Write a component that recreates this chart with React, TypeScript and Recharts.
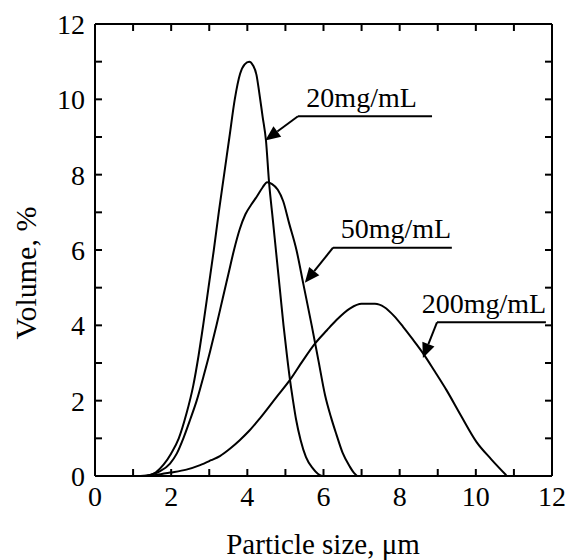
import {
  LineChart,
  Line,
  XAxis,
  YAxis,
  ReferenceLine,
  ReferenceDot,
} from 'recharts'

// particle size (µm) / volume (%)
const conc20 = [
  { x: 1.2, y: 0 }, { x: 1.45, y: 0.03 }, { x: 1.6, y: 0.1 }, { x: 1.8, y: 0.3 },
  { x: 2.0, y: 0.6 }, { x: 2.2, y: 1.0 }, { x: 2.4, y: 1.65 }, { x: 2.58, y: 2.4 },
  { x: 2.72, y: 3.2 }, { x: 2.84, y: 4.0 }, { x: 2.98, y: 5.0 }, { x: 3.12, y: 6.0 },
  { x: 3.25, y: 7.0 }, { x: 3.39, y: 8.0 }, { x: 3.53, y: 9.0 }, { x: 3.67, y: 10.0 },
  { x: 3.81, y: 10.68 }, { x: 3.93, y: 10.93 }, { x: 4.05, y: 11.0 }, { x: 4.15, y: 10.9 },
  { x: 4.24, y: 10.65 }, { x: 4.31, y: 10.2 }, { x: 4.4, y: 9.55 }, { x: 4.49, y: 8.9 },
  { x: 4.57, y: 7.8 }, { x: 4.67, y: 6.8 }, { x: 4.77, y: 5.8 }, { x: 4.86, y: 4.9 },
  { x: 4.95, y: 4.0 }, { x: 5.04, y: 3.2 }, { x: 5.12, y: 2.55 }, { x: 5.2, y: 2.0 },
  { x: 5.28, y: 1.5 }, { x: 5.4, y: 0.95 }, { x: 5.54, y: 0.5 }, { x: 5.72, y: 0.2 },
  { x: 5.85, y: 0.06 }, { x: 5.95, y: 0 },
]

const conc50 = [
  { x: 1.2, y: 0 }, { x: 1.45, y: 0.03 }, { x: 1.7, y: 0.12 }, { x: 1.97, y: 0.33 },
  { x: 2.15, y: 0.6 }, { x: 2.32, y: 1.0 }, { x: 2.5, y: 1.5 }, { x: 2.67, y: 2.0 },
  { x: 2.85, y: 2.65 }, { x: 3.02, y: 3.3 }, { x: 3.19, y: 4.0 }, { x: 3.35, y: 4.7 },
  { x: 3.5, y: 5.35 }, { x: 3.65, y: 6.0 }, { x: 3.8, y: 6.55 }, { x: 3.95, y: 6.95 },
  { x: 4.1, y: 7.2 }, { x: 4.25, y: 7.42 }, { x: 4.4, y: 7.66 }, { x: 4.52, y: 7.8 },
  { x: 4.65, y: 7.75 }, { x: 4.8, y: 7.6 }, { x: 4.94, y: 7.3 }, { x: 5.1, y: 6.7 },
  { x: 5.29, y: 6.0 }, { x: 5.47, y: 5.1 }, { x: 5.69, y: 4.0 }, { x: 5.87, y: 3.05 },
  { x: 6.04, y: 2.15 }, { x: 6.2, y: 1.55 }, { x: 6.34, y: 1.1 }, { x: 6.5, y: 0.62 },
  { x: 6.69, y: 0.25 }, { x: 6.8, y: 0.08 }, { x: 6.88, y: 0 },
]

const conc200 = [
  { x: 1.3, y: 0 }, { x: 1.6, y: 0.03 }, { x: 1.97, y: 0.09 }, { x: 2.4, y: 0.17 },
  { x: 2.76, y: 0.29 }, { x: 3.05, y: 0.42 }, { x: 3.28, y: 0.53 }, { x: 3.55, y: 0.73 },
  { x: 3.8, y: 0.95 }, { x: 4.05, y: 1.2 }, { x: 4.33, y: 1.53 }, { x: 4.77, y: 2.1 },
  { x: 5.12, y: 2.55 }, { x: 5.45, y: 3.05 }, { x: 5.78, y: 3.52 }, { x: 6.09, y: 3.87 },
  { x: 6.34, y: 4.14 }, { x: 6.7, y: 4.45 }, { x: 7.0, y: 4.57 }, { x: 7.35, y: 4.57 },
  { x: 7.6, y: 4.48 }, { x: 7.85, y: 4.25 }, { x: 8.09, y: 3.96 }, { x: 8.35, y: 3.62 },
  { x: 8.62, y: 3.25 }, { x: 8.92, y: 2.78 }, { x: 9.23, y: 2.28 }, { x: 9.6, y: 1.62 },
  { x: 10.02, y: 0.9 }, { x: 10.4, y: 0.45 }, { x: 10.8, y: 0.02 },
]

const majorTicks = [0, 2, 4, 6, 8, 10, 12]
const minorTicks = [1, 2, 3, 4, 5, 6, 7, 8, 9, 10, 11]

// label text, leader line (horizontal part) and arrow tip, in data units
const notes = [
  { text: '20mg/mL', tx: 5.55, ty: 10.05, lx1: 5.33, lx2: 8.85, ly: 9.55, ax: 4.47, ay: 8.91 },
  { text: '50mg/mL', tx: 6.45, ty: 6.58, lx1: 6.25, lx2: 9.37, ly: 6.06, ax: 5.51, ay: 5.13 },
  { text: '200mg/mL', tx: 8.58, ty: 4.59, lx1: 8.98, lx2: 11.84, ly: 4.08, ax: 8.61, ay: 3.13 },
]

const font = '"Liberation Serif", "Times New Roman", serif'

// plot frame in page pixels (follows from the chart size and margins below)
const W = 568
const H = 560
const LEFT = 95
const RIGHT = W - 16
const TOP = 24
const BOTTOM = H - 84
const TICK_LEN = 7

function Arrow(props: any) {
  const { x1, y1, x2, y2 } = props
  const dx = x2 - x1
  const dy = y2 - y1
  const len = Math.sqrt(dx * dx + dy * dy)
  const ux = dx / len
  const uy = dy / len
  const hl = 15
  const hw = 6.5
  const bx = x2 - ux * hl
  const by = y2 - uy * hl
  const pts = `${x2},${y2} ${bx - uy * hw},${by + ux * hw} ${bx + uy * hw},${by - ux * hw}`
  return (
    <g>
      <line x1={x1} y1={y1} x2={bx} y2={by} stroke="#000" strokeWidth={2} />
      <polygon points={pts} fill="#000" />
    </g>
  )
}

function NoteText(props: any) {
  const { cx, cy, text } = props
  return (
    <text x={cx} y={cy} dominantBaseline="central" fontFamily={font} fontSize={28} fill="#000">
      {text}
    </text>
  )
}

// inward tick marks on all four sides of the frame
function FrameTicks() {
  const sx = (v: number) => LEFT + (v / 12) * (RIGHT - LEFT)
  const sy = (v: number) => BOTTOM - (v / 12) * (BOTTOM - TOP)
  return (
    <svg width={W} height={H} style={{ position: 'absolute', left: 0, top: 0, pointerEvents: 'none' }}>
      {minorTicks.map((v) => (
        <g key={v} stroke="#000" strokeWidth={2}>
          <line x1={sx(v)} x2={sx(v)} y1={BOTTOM} y2={BOTTOM - TICK_LEN} />
          <line x1={sx(v)} x2={sx(v)} y1={TOP} y2={TOP + TICK_LEN} />
          <line x1={LEFT} x2={LEFT + TICK_LEN} y1={sy(v)} y2={sy(v)} />
          <line x1={RIGHT - TICK_LEN} x2={RIGHT} y1={sy(v)} y2={sy(v)} />
        </g>
      ))}
    </svg>
  )
}

export default function App() {
  const tickStyle = { fontFamily: font, fontSize: 28, fill: '#000' }
  return (
    <div style={{ position: 'absolute', left: 0, top: 0, width: W, height: H, background: '#fff' }}>
      <LineChart width={W} height={H} margin={{ top: TOP, right: W - RIGHT, bottom: 0, left: 0 }}>
        <XAxis
          type="number"
          dataKey="x"
          domain={[0, 12]}
          ticks={majorTicks}
          interval={0}
          allowDataOverflow
          height={H - BOTTOM}
          tickLine={false}
          tickSize={10}
          tickMargin={0}
          tick={tickStyle}
          axisLine={{ stroke: '#000', strokeWidth: 2 }}
          label={{
            content: () => (
              <text x={323} y={544} textAnchor="middle" dominantBaseline="central" fontFamily={font} fontSize={29} fill="#000">
                Particle size, μm
              </text>
            ),
          }}
        />
        <YAxis
          type="number"
          domain={[0, 12]}
          ticks={majorTicks}
          interval={0}
          allowDataOverflow
          width={LEFT}
          tickLine={false}
          tickSize={10}
          tickMargin={0}
          tick={tickStyle}
          axisLine={{ stroke: '#000', strokeWidth: 2 }}
          label={{
            content: () => (
              <text transform="translate(25,273) rotate(-90)" textAnchor="middle" dominantBaseline="central" fontFamily={font} fontSize={30} fill="#000">
                Volume, %
              </text>
            ),
          }}
        />
        <ReferenceLine y={12} stroke="#000" strokeWidth={2} />
        <ReferenceLine x={12} stroke="#000" strokeWidth={2} />

        <Line data={conc20} dataKey="y" type="monotone" stroke="#000" strokeWidth={2} dot={false} isAnimationActive={false} />
        <Line data={conc50} dataKey="y" type="monotone" stroke="#000" strokeWidth={2} dot={false} isAnimationActive={false} />
        <Line data={conc200} dataKey="y" type="monotone" stroke="#000" strokeWidth={2} dot={false} isAnimationActive={false} />

        {notes.map((n) => (
          <ReferenceLine key={n.text + 'h'} segment={[{ x: n.lx1, y: n.ly }, { x: n.lx2, y: n.ly }]} stroke="#000" strokeWidth={2} />
        ))}
        {notes.map((n) => (
          <ReferenceLine key={n.text + 'a'} segment={[{ x: n.lx1, y: n.ly }, { x: n.ax, y: n.ay }]} shape={<Arrow />} />
        ))}
        {notes.map((n) => (
          <ReferenceDot key={n.text + 't'} x={n.tx} y={n.ty} r={0} shape={<NoteText text={n.text} />} />
        ))}
      </LineChart>
      <FrameTicks />
    </div>
  )
}
